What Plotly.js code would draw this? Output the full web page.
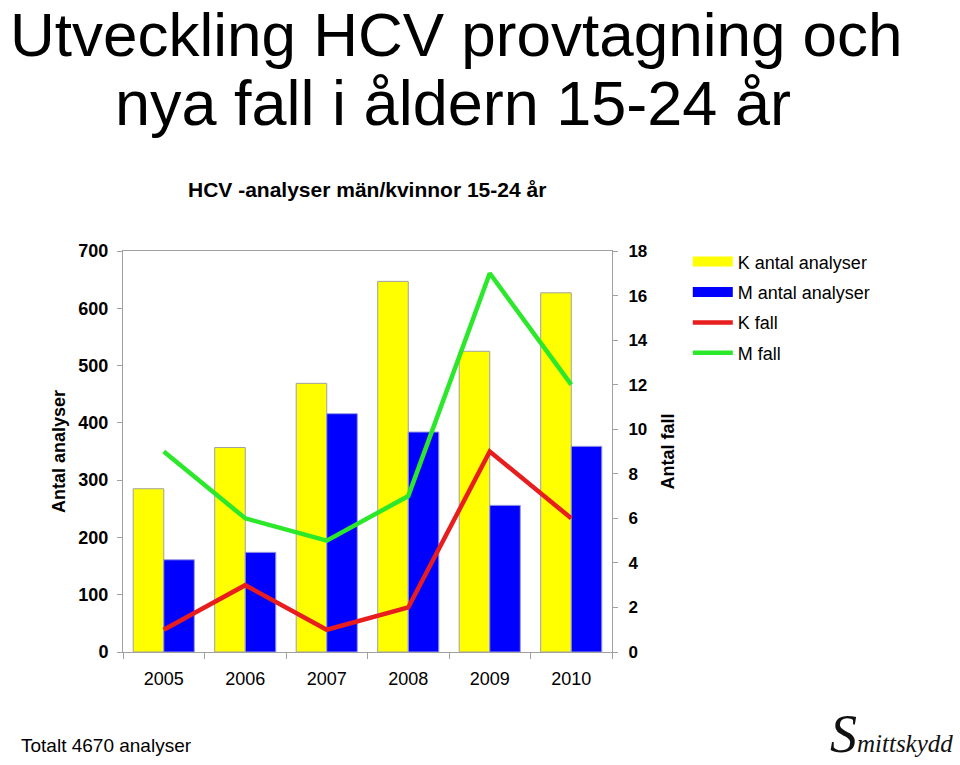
<!DOCTYPE html>
<html>
<head>
<meta charset="utf-8">
<script src="https://cdn.plot.ly/plotly-3.0.1.min.js"></script>
<style>html,body{margin:0;padding:0;background:#fff;}#chart{width:960px;height:765px;}</style>
</head>
<body>
<div id="chart"></div>
<script>
const years = ["2005", "2006", "2007", "2008", "2009", "2010"];
const kAnalyser = [285, 357, 469, 647, 525, 627];
const mAnalyser = [161, 174, 416, 384, 256, 359];
const kFall = [1, 3, 1, 2, 9, 6];
const mFall = [9, 6, 5, 7, 17, 12];
const seriesNames = ["K antal analyser", "M antal analyser", "K fall", "M fall"];
const seriesColors = ["#FFFF00", "#0000FF", "#E81E1E", "#2BE82B"];
const leftTicks = [0, 100, 200, 300, 400, 500, 600, 700];
const rightTicks = [0, 2, 4, 6, 8, 10, 12, 14, 16, 18];

const FONT = "Liberation Sans, Arial, Helvetica, sans-serif";

const traces = [
  {type: "bar", name: seriesNames[0], x: years, y: kAnalyser, showlegend: false,
   marker: {color: seriesColors[0], line: {color: "#A0A0A0", width: 1}}},
  {type: "bar", name: seriesNames[1], x: years, y: mAnalyser, showlegend: false,
   marker: {color: seriesColors[1], line: {color: "#9A9AE0", width: 1}}},
  {type: "scatter", mode: "lines", name: seriesNames[2], x: years, y: kFall, yaxis: "y2", legendgroup: "c",
   legendrank: 3, line: {color: seriesColors[2], width: 4.5}},
  {type: "scatter", mode: "lines", name: seriesNames[3], x: years, y: mFall, yaxis: "y2", legendgroup: "d",
   legendrank: 4, line: {color: seriesColors[3], width: 4.5}},
  // legend swatches for the two bar series (wide rectangles as in the reference)
  {type: "scatter", mode: "lines", name: seriesNames[0], x: [null], y: [null], legendgroup: "a",
   legendrank: 1, hoverinfo: "skip", line: {color: seriesColors[0], width: 10}},
  {type: "scatter", mode: "lines", name: seriesNames[1], x: [null], y: [null], legendgroup: "b",
   legendrank: 2, hoverinfo: "skip", line: {color: seriesColors[1], width: 10}}
];

const layout = {
  width: 960, height: 765,
  margin: {l: 123, r: 348, t: 251, b: 113, pad: 0},
  paper_bgcolor: "#ffffff", plot_bgcolor: "#ffffff",
  font: {family: FONT, color: "#000000", size: 18},
  barmode: "group", bargap: 0.25, bargroupgap: 0,
  showlegend: true,
  legend: {x: 1.155, y: 1.019, xanchor: "left", yanchor: "top",
           font: {family: FONT, size: 18, color: "#000"},
           traceorder: "grouped", tracegroupgap: 4, itemwidth: 40,
           bgcolor: "rgba(0,0,0,0)"},
  xaxis: {type: "category", showgrid: false, zeroline: false,
          showline: true, linecolor: "#A0A0A0", linewidth: 1, mirror: true,
          ticks: "outside", tickson: "boundaries", ticklen: 6, tickcolor: "#A0A0A0",
          ticklabelstandoff: 10,
          tickfont: {family: FONT, size: 18, color: "#000"}},
  yaxis: {range: [0, 700], tickvals: leftTicks, showgrid: false, zeroline: false,
          showline: true, linecolor: "#A0A0A0", linewidth: 1,
          ticks: "outside", ticklen: 5, tickcolor: "#A0A0A0", ticklabelstandoff: 5,
          tickfont: {family: FONT, size: 18, color: "#000", weight: "bold"},
          title: {text: "Antal analyser", font: {family: FONT, size: 18, color: "#000", weight: "bold"}, standoff: 8}},
  yaxis2: {range: [0, 18], tickvals: rightTicks, overlaying: "y", side: "right",
           showgrid: false, zeroline: false,
           showline: true, linecolor: "#A0A0A0", linewidth: 1,
           ticks: "outside", ticklen: 5, tickcolor: "#A0A0A0", ticklabelstandoff: 7,
           tickfont: {family: FONT, size: 17, color: "#000", weight: "bold"},
           title: {text: "Antal fall", font: {family: FONT, size: 18, color: "#000", weight: "bold"}, standoff: 14}},
  annotations: [
    {text: "Utveckling HCV provtagning och", xref: "paper", yref: "paper", x: 0.6810, y: 1.5400,
     xanchor: "center", yanchor: "middle", showarrow: false, font: {family: FONT, size: 62, color: "#000"}},
    {text: "nya fall i åldern 15-24 år", xref: "paper", yref: "paper", x: 0.6748, y: 1.3686,
     xanchor: "center", yanchor: "middle", showarrow: false, font: {family: FONT, size: 63, color: "#000"}},
    {text: "HCV -analyser män/kvinnor 15-24 år", xref: "paper", yref: "paper", x: 0.498, y: 1.1529,
     xanchor: "center", yanchor: "middle", showarrow: false, font: {family: FONT, size: 21, color: "#000", weight: "bold"}},
    {text: "Totalt 4670 analyser", xref: "paper", yref: "paper", x: -0.2127, y: -0.232,
     xanchor: "left", yanchor: "middle", showarrow: false, font: {family: FONT, size: 19, color: "#000"}},
    {text: "<i><span style='font-size:54px'>S</span>mittskydd</i>", xref: "paper", yref: "paper", x: 1.702, y: -0.205,
     xanchor: "right", yanchor: "middle", showarrow: false, font: {family: "Liberation Serif, serif", size: 25, color: "#111"}}
  ]
};

Plotly.newPlot("chart", traces, layout, {displayModeBar: false, staticPlot: true});
</script>
</body>
</html>
